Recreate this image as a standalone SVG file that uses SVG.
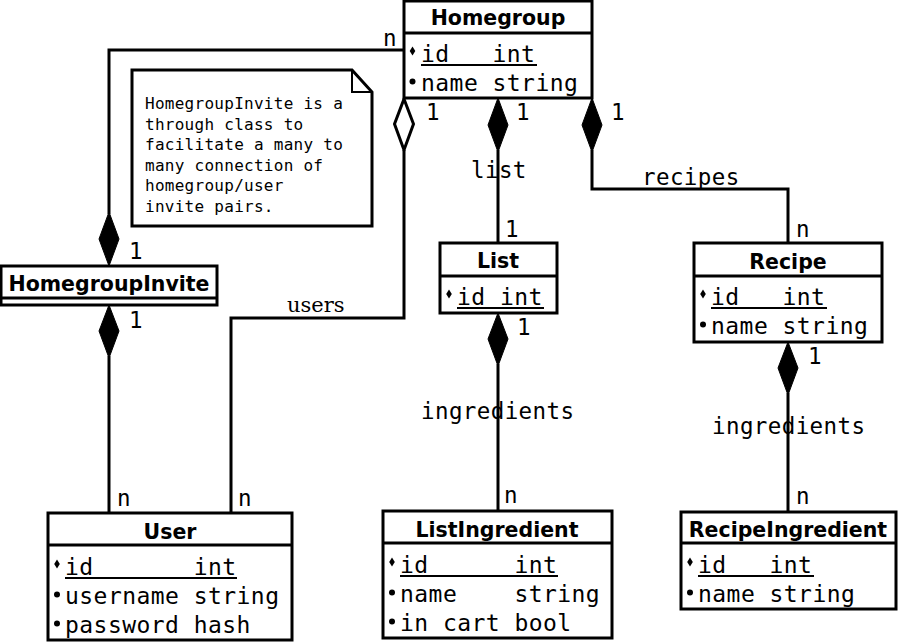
<svg xmlns="http://www.w3.org/2000/svg" width="900" height="642" viewBox="0 0 900 642">
<style>
.box{fill:#fff;stroke:#000;stroke-width:3}
.ln{fill:none;stroke:#000;stroke-width:3}
.title{font-family:"DejaVu Sans",sans-serif;font-weight:bold;font-size:20.5px;text-anchor:middle;fill:#000}
.attr{font-family:"DejaVu Sans Mono",monospace;font-size:23px;letter-spacing:0.45px;fill:#000}
.lbl{font-family:"DejaVu Sans Mono",monospace;font-size:22.5px;letter-spacing:0.4px;fill:#000}
.note{font-family:"DejaVu Sans Mono",monospace;font-size:16px;letter-spacing:0.27px;fill:#000}
.serif{font-family:"DejaVu Serif",serif;font-size:21px;fill:#000}
.ul{stroke:#000;stroke-width:2}
.dia{fill:#000;stroke:#000;stroke-width:1}
.odia{fill:#fff;stroke:#000;stroke-width:3}
</style>
<defs>
<polygon id="vis" points="0,-4.5 2.8,0 0,4.5 -2.8,0" fill="#000"/>
<circle id="dot" r="3" fill="#000"/>
</defs>

<g id="connectors">
<g id="labels">
<text class="lbl" x="383" y="46">n</text>
<text class="lbl" x="129" y="259">1</text>
<text class="lbl" x="129" y="328">1</text>
<text class="lbl" x="117" y="506">n</text>
<text class="lbl" x="238" y="506">n</text>
<text class="serif" x="287" y="312">users</text>
<text class="lbl" x="426" y="120">1</text>
<text class="lbl" x="516" y="120">1</text>
<text class="lbl" x="611" y="120">1</text>
<text class="lbl" x="471" y="178">list</text>
<text class="lbl" x="505" y="237">1</text>
<text class="lbl" x="642" y="185">recipes</text>
<text class="lbl" x="796" y="237">n</text>
<text class="lbl" x="517" y="335">1</text>
<text class="lbl" x="421" y="419">ingredients</text>
<text class="lbl" x="504" y="503">n</text>
<text class="lbl" x="808" y="364">1</text>
<text class="lbl" x="712" y="434">ingredients</text>
<text class="lbl" x="796" y="504">n</text>
</g>
<polyline class="ln" points="404,50 109,50 109,214"/>
<polygon class="dia" points="109,212 119,239 109,266 99,239"/>
<line class="ln" x1="109" y1="356" x2="109" y2="513"/>
<polygon class="dia" points="109,305 119,331 109,358 99,331"/>
<polyline class="ln" points="404,150 404,318 231,318 231,513"/>
<polygon class="odia" points="404,99 413.5,124 404,150 394.5,124"/>
<line class="ln" x1="498" y1="150" x2="498" y2="243"/>
<polygon class="dia" points="498,98 508,125 498,152 488,125"/>
<polyline class="ln" points="592,150 592,189 788,189 788,243"/>
<polygon class="dia" points="592,98 602,125 592,152 582,125"/>
<line class="ln" x1="498" y1="364" x2="498" y2="511"/>
<polygon class="dia" points="498,313 508,339 498,366 488,339"/>
<line class="ln" x1="788" y1="393" x2="788" y2="512"/>
<polygon class="dia" points="788,342 798,368 788,395 778,368"/>
</g>

<g id="note">
<path class="box" d="M132,70 H352 L372,92 V226 H132 Z"/>
<polyline fill="none" stroke="#000" stroke-width="2" points="352,70 352,92 372,92"/>
<text class="note" x="145" y="109">HomegroupInvite is a</text>
<text class="note" x="145" y="130">through class to</text>
<text class="note" x="145" y="150">facilitate a many to</text>
<text class="note" x="145" y="171">many connection of</text>
<text class="note" x="145" y="191">homegroup/user</text>
<text class="note" x="145" y="212">invite pairs.</text>
</g>

<g id="homegroup">
<rect class="box" x="404" y="1" width="188" height="97"/>
<line class="ln" x1="404" y1="33" x2="592" y2="33"/>
<text class="title" x="498" y="25">Homegroup</text>
<use href="#vis" x="412.5" y="51"/>
<text class="attr" x="421" y="62" xml:space="preserve">id   int</text>
<line class="ul" x1="421" y1="65" x2="537" y2="65"/>
<use href="#dot" x="412.5" y="81.5"/>
<text class="attr" x="421" y="91" xml:space="preserve">name string</text>
</g>

<g id="homegroupinvite">
<rect class="box" x="1" y="266" width="216" height="39"/>
<line class="ln" x1="1" y1="298" x2="217" y2="298"/>
<text class="title" x="109" y="291">HomegroupInvite</text>
</g>

<g id="list">
<rect class="box" x="440" y="243" width="117" height="70"/>
<line class="ln" x1="440" y1="276" x2="557" y2="276"/>
<text class="title" x="498" y="268">List</text>
<use href="#vis" x="449" y="294"/>
<text class="attr" x="457" y="305" xml:space="preserve">id int</text>
<line class="ul" x1="457" y1="308" x2="544" y2="308"/>
</g>

<g id="recipe">
<rect class="box" x="694" y="243" width="188" height="99"/>
<line class="ln" x1="694" y1="276" x2="882" y2="276"/>
<text class="title" x="788" y="269">Recipe</text>
<use href="#vis" x="703" y="294"/>
<text class="attr" x="711" y="305" xml:space="preserve">id   int</text>
<line class="ul" x1="711" y1="308" x2="827" y2="308"/>
<use href="#dot" x="703" y="324.5"/>
<text class="attr" x="711" y="334" xml:space="preserve">name string</text>
</g>

<g id="user">
<rect class="box" x="48" y="513" width="244" height="127"/>
<line class="ln" x1="48" y1="545" x2="292" y2="545"/>
<text class="title" x="170" y="539">User</text>
<use href="#vis" x="57" y="564"/>
<text class="attr" x="65" y="575" xml:space="preserve">id       int</text>
<line class="ul" x1="65" y1="578" x2="237" y2="578"/>
<use href="#dot" x="57" y="594.5"/>
<text class="attr" x="65" y="604" xml:space="preserve">username string</text>
<use href="#dot" x="57" y="623.5"/>
<text class="attr" x="65" y="633" xml:space="preserve">password hash</text>
</g>

<g id="listingredient">
<rect class="box" x="383" y="511" width="229" height="127"/>
<line class="ln" x1="383" y1="543" x2="612" y2="543"/>
<text class="title" x="497" y="537">ListIngredient</text>
<use href="#vis" x="392" y="562"/>
<text class="attr" x="400" y="573" xml:space="preserve">id      int</text>
<line class="ul" x1="400" y1="576" x2="558" y2="576"/>
<use href="#dot" x="392" y="592.5"/>
<text class="attr" x="400" y="602" xml:space="preserve">name    string</text>
<use href="#dot" x="392" y="621.5"/>
<text class="attr" x="400" y="631" xml:space="preserve">in cart bool</text>
</g>

<g id="recipeingredient">
<rect class="box" x="681" y="512" width="215" height="97"/>
<line class="ln" x1="681" y1="543" x2="896" y2="543"/>
<text class="title" x="788" y="537">RecipeIngredient</text>
<use href="#vis" x="690" y="562"/>
<text class="attr" x="698" y="573" xml:space="preserve">id   int</text>
<line class="ul" x1="698" y1="576" x2="814" y2="576"/>
<use href="#dot" x="690" y="592.5"/>
<text class="attr" x="698" y="602" xml:space="preserve">name string</text>
</g>
</svg>
